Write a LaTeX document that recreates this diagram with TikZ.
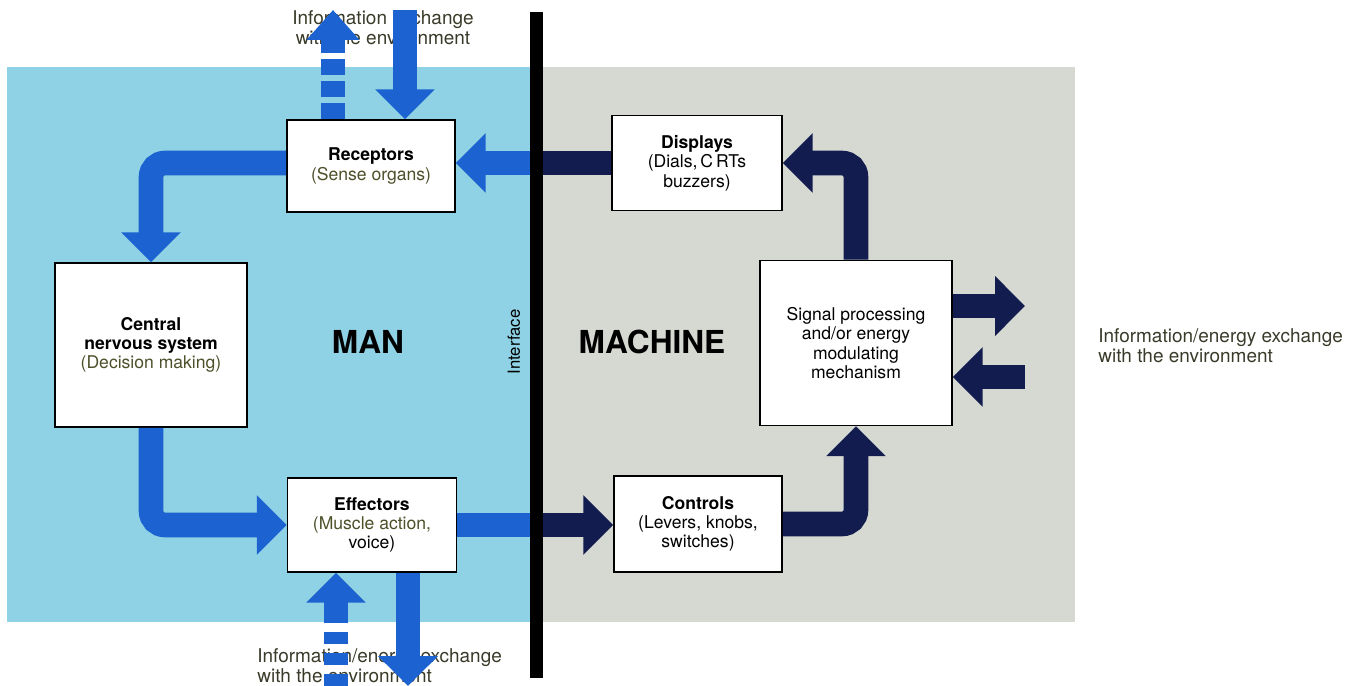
\documentclass[tikz,border=0pt]{standalone}
\usepackage{fontspec}
\setmainfont{TeX Gyre Heros}
\usetikzlibrary{arrows.meta}

\definecolor{manbg}{RGB}{143,210,229}
\definecolor{machbg}{RGB}{214,217,210}
\definecolor{flowblue}{RGB}{28,98,208}
\definecolor{flownavy}{RGB}{18,28,78}
\definecolor{subtxt}{RGB}{78,80,42}
\definecolor{envtxt}{RGB}{58,58,42}

\tikzset{
  box/.style={draw=black, line width=1pt, fill=white, align=center,
    font=\fontsize{10}{11}\selectfont, inner sep=2pt},
  flow/.style={line width=14pt, rounded corners=8pt,
    -{Triangle[length=17pt,width=33pt]}},
  blueflow/.style={flow, draw=flowblue},
  navyflow/.style={flow, draw=flownavy},
  shaft/.style={line width=14pt},
  envlabel/.style={text=envtxt, font=\fontsize{10.8}{11.4}\selectfont, inner sep=0pt},
  sidelabel/.style={font=\fontsize{18}{18}\selectfont\bfseries},
}

\begin{document}
\begin{tikzpicture}[x=0.02cm, y=-0.02cm]
  \useasboundingbox (0,0) rectangle (1363,686);

  % Panels
  \fill[manbg]  (7,67)   rectangle (536,622);
  \fill[machbg] (536,67) rectangle (1075,622);

  % Define nodes
  \node[box, minimum width=3.36cm, minimum height=1.84cm] (rec) at (371,166)
    {\textbf{Receptors}\\\textcolor{subtxt}{(Sense organs)}};
  \node[box, minimum width=3.84cm, minimum height=3.28cm] (cns) at (151,345)
    {\textbf{Central}\\\textbf{nervous system}\\\textcolor{subtxt}{(Decision making)}};
  \node[box, minimum width=3.38cm, minimum height=1.88cm] (eff) at (372,525)
    {\textbf{Effectors}\\\textcolor{subtxt}{(Muscle action,}\\voice)};
  \node[box, minimum width=3.4cm, minimum height=1.9cm] (disp) at (697,163)
    {\textbf{Displays}\\(Dials,\,C\,RTs\\buzzers)};
  \node[box, minimum width=3.84cm, minimum height=3.3cm] (sig) at (856,343)
    {Signal processing\\and/or energy\\modulating\\mechanism};
  \node[box, minimum width=3.36cm, minimum height=1.92cm] (ctl) at (698,524)
    {\textbf{Controls}\\(Levers, knobs,\\switches)};

  \node[sidelabel] (man)  at (368,342) {MAN};
  \node[sidelabel] (mach) at (652,342) {MACHINE};
  \node[rotate=90, font=\fontsize{9.5}{10}\selectfont] (ifl) at (514,342) {Interface};

  \node[envlabel, align=center] (envT) at (383,28)
    {Information exchange\\with the environment};
  \node[envlabel, align=left, anchor=west] (envB) at (257,666)
    {Information/energy exchange\\with the environment};
  \node[envlabel, align=left, anchor=west] (envR) at (1098,346)
    {Information/energy exchange\\with the environment};

  % Free ends
  \coordinate (ifT) at (536,12);
  \coordinate (ifB) at (536,678);
  \coordinate (topL) at (333,10);
  \coordinate (topR) at (405,10);
  \coordinate (botL) at (336,686);
  \coordinate (botLm) at (336,622);
  \coordinate (botR) at (408,686);
  \coordinate (outR) at (1025,306);
  \coordinate (inR) at (1025,377);

  % Connect the nodes
  \draw[shaft, flownavy] (disp.west) -- (disp.west -| ifT);
  \draw[blueflow] (disp.west -| ifT) -- (rec.east |- disp.west);
  \draw[blueflow] (rec.west |- disp.west) -| (cns.north);
  \draw[blueflow] (cns.south) |- (eff.west);
  \draw[shaft, flowblue] (eff.east) -- (eff.east -| ifT);
  \draw[navyflow] (eff.east -| ifT) -- (ctl.west |- eff.east);
  \draw[navyflow] (ctl.east) -| (sig.south);
  \draw[navyflow] (sig.north) |- (disp.east);
  \draw[navyflow] (sig.east |- outR) -- (outR);
  \draw[navyflow] (inR) -- (sig.east |- inR);

  % Exchange with the environment
  \draw[blueflow, -{Triangle[length=17pt,width=29pt]}, dash pattern=on 9pt off 3.5pt]
    (rec.north -| topL) -- (topL);
  \draw[blueflow] (topR) -- (rec.north -| topR);
  \draw[blueflow] (botLm) -- (eff.south -| botL);
  \draw[shaft, flowblue, dash pattern=on 7pt off 5pt] (botL) -- (botLm);
  \draw[blueflow] (eff.south -| botR) -- (botR);

  % Interface
  \draw[line width=7.4pt] (ifT) -- (ifB);
\end{tikzpicture}
\end{document}
